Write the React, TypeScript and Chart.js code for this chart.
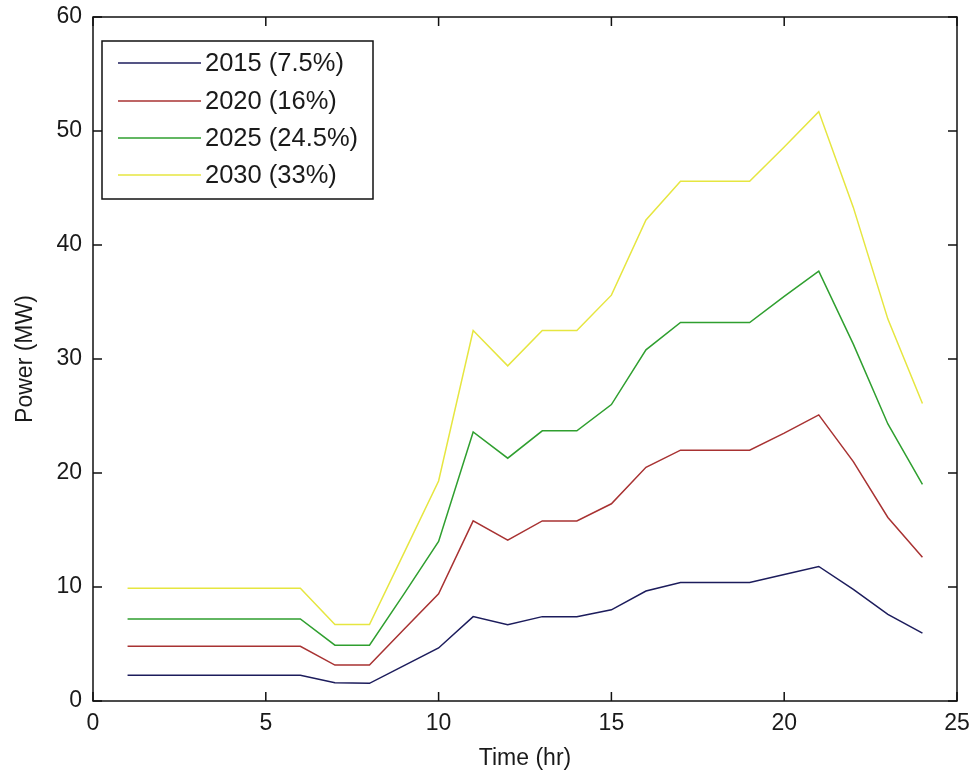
import React, { useEffect, useRef } from 'react';
import { Chart, registerables } from 'chart.js';

Chart.register(...registerables);

const hours = [1, 2, 3, 4, 5, 6, 7, 8, 9, 10, 11, 12, 13, 14, 15, 16, 17, 18, 19, 20, 21, 22, 23, 24];

const power2015 = [2.25, 2.25, 2.25, 2.25, 2.25, 2.25, 1.6, 1.55, 3.1, 4.65, 7.4, 6.7, 7.4, 7.4, 8.0, 9.65, 10.4, 10.4, 10.4, 11.1, 11.8, 9.8, 7.6, 5.95];
const power2020 = [4.8, 4.8, 4.8, 4.8, 4.8, 4.8, 3.15, 3.15, 6.3, 9.4, 15.8, 14.1, 15.8, 15.8, 17.3, 20.5, 22.0, 22.0, 22.0, 23.5, 25.1, 21.0, 16.1, 12.6];
const power2025 = [7.2, 7.2, 7.2, 7.2, 7.2, 7.2, 4.9, 4.9, 9.4, 14.0, 23.6, 21.3, 23.7, 23.7, 26.0, 30.8, 33.2, 33.2, 33.2, 35.5, 37.7, 31.3, 24.3, 19.0];
const power2030 = [9.9, 9.9, 9.9, 9.9, 9.9, 9.9, 6.7, 6.7, 13.0, 19.3, 32.5, 29.4, 32.5, 32.5, 35.6, 42.2, 45.6, 45.6, 45.6, 48.6, 51.7, 43.3, 33.5, 26.1];

const seriesLabels = ['2015 (7.5%)', '2020 (16%)', '2025 (24.5%)', '2030 (33%)'];
const seriesValues = [power2015, power2020, power2025, power2030];
const seriesColors = ['#1c1c5c', '#a83232', '#2f9f2f', '#e6e640'];

const xTickValues = [0, 5, 10, 15, 20, 25];
const yTickValues = [0, 10, 20, 30, 40, 50, 60];
const xTitle = 'Time (hr)';
const yTitle = 'Power (MW)';

const FONT = '"Liberation Sans", Arial, Helvetica, sans-serif';
const TEXT = '#1a1a1a';

const framePlugin = {
  id: 'matlabFrame',
  afterDatasetsDraw(chart: any) {
    const { ctx, chartArea, scales } = chart;
    const { left, right, top, bottom } = chartArea;
    const xs = scales.x;
    const ys = scales.y;
    ctx.save();
    ctx.strokeStyle = '#111';
    ctx.lineWidth = 1.5;
    ctx.strokeRect(left, top, right - left, bottom - top);
    const L = 9;
    ctx.beginPath();
    xTickValues.forEach((v) => {
      const px = xs.getPixelForValue(v);
      ctx.moveTo(px, bottom);
      ctx.lineTo(px, bottom - L);
      ctx.moveTo(px, top);
      ctx.lineTo(px, top + L);
    });
    yTickValues.forEach((v) => {
      const py = ys.getPixelForValue(v);
      ctx.moveTo(left, py);
      ctx.lineTo(left + L, py);
      ctx.moveTo(right, py);
      ctx.lineTo(right - L, py);
    });
    ctx.stroke();
    ctx.restore();
  },
};

const legendPlugin = {
  id: 'insideLegend',
  afterDraw(chart: any) {
    const { ctx } = chart;
    const boxL = 102, boxT = 41, boxR = 373, boxB = 199;
    ctx.save();
    ctx.fillStyle = '#ffffff';
    ctx.fillRect(boxL, boxT, boxR - boxL, boxB - boxT);
    ctx.strokeStyle = '#111';
    ctx.lineWidth = 1.5;
    ctx.strokeRect(boxL, boxT, boxR - boxL, boxB - boxT);
    const rowY = [63, 101, 138, 175];
    ctx.font = '25.5px ' + FONT;
    ctx.textBaseline = 'middle';
    ctx.textAlign = 'left';
    chart.data.datasets.forEach((ds: any, i: number) => {
      const y = rowY[i];
      ctx.strokeStyle = ds.borderColor;
      ctx.lineWidth = 1.5;
      ctx.beginPath();
      ctx.moveTo(118, y);
      ctx.lineTo(201, y);
      ctx.stroke();
      ctx.fillStyle = TEXT;
      ctx.fillText(ds.label, 205, y + 1);
    });
    ctx.restore();
  },
};

export default function App() {
  const canvasRef = useRef<HTMLCanvasElement | null>(null);

  useEffect(() => {
    const canvas = canvasRef.current;
    if (!canvas) return;
    const datasets = seriesValues.map((vals, i) => ({
      label: seriesLabels[i],
      data: hours.map((h, j) => ({ x: h, y: vals[j] })),
      borderColor: seriesColors[i],
      backgroundColor: seriesColors[i],
      borderWidth: 1.5,
      pointRadius: 0,
      tension: 0,
      fill: false,
    }));
    const chart = new Chart(canvas, {
      type: 'line',
      data: { datasets },
      plugins: [framePlugin, legendPlugin],
      options: {
        responsive: false,
        animation: false,
        layout: { padding: { top: 17, right: 21, left: 0, bottom: 0 } },
        plugins: {
          legend: { display: false },
          tooltip: { enabled: false },
        },
        scales: {
          x: {
            type: 'linear',
            min: 0,
            max: 25,
            afterFit: (s: any) => { s.height = 75; s.paddingLeft = 0; s.paddingRight = 0; },
            afterBuildTicks: (s: any) => { s.ticks = xTickValues.map((v) => ({ value: v })); },
            grid: { display: false, drawTicks: false },
            border: { display: false },
            ticks: { padding: 9, color: TEXT, font: { family: FONT, size: 23 }, maxRotation: 0 },
            title: { display: true, text: xTitle, color: TEXT, font: { family: FONT, size: 23 }, padding: { top: 0, bottom: 4 } },
          },
          y: {
            type: 'linear',
            min: 0,
            max: 60,
            afterFit: (s: any) => { s.width = 93; s.paddingTop = 0; s.paddingBottom = 0; },
            afterBuildTicks: (s: any) => { s.ticks = yTickValues.map((v) => ({ value: v })); },
            grid: { display: false, drawTicks: false },
            border: { display: false },
            ticks: { padding: 11, color: TEXT, font: { family: FONT, size: 23 } },
            title: { display: true, text: yTitle, color: TEXT, font: { family: FONT, size: 23 }, padding: { top: 12, bottom: 0 } },
          },
        },
      },
    } as any);
    return () => chart.destroy();
  }, []);

  return (
    <div style={{ position: 'absolute', left: 0, top: 0, width: 978, height: 776, background: '#fff' }}>
      <canvas ref={canvasRef} width={978} height={776} style={{ display: 'block' }} />
    </div>
  );
}
